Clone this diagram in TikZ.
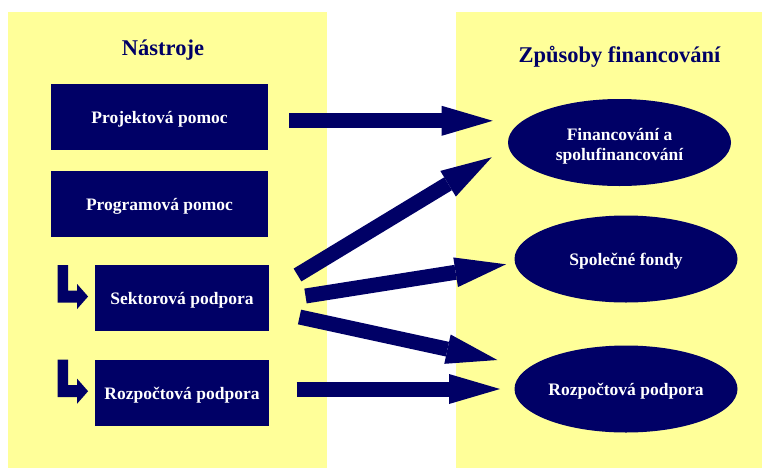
\documentclass[tikz,border=0pt]{standalone}
\usepackage{fontspec}
\setmainfont{Liberation Serif}
\usetikzlibrary{arrows.meta,shapes.geometric,calc}
\definecolor{navy}{RGB}{0,0,102}
\definecolor{paleyellow}{RGB}{255,255,153}
\begin{document}
\begin{tikzpicture}[x=1pt,y=-1pt,
  heading/.style={font=\fontsize{22.5}{27}\selectfont\bfseries, text=navy, anchor=base, inner sep=0pt},
  toolbox/.style={rectangle, fill=navy, text=white, font=\fontsize{17.5}{21}\selectfont\bfseries,
    minimum height=66pt, inner sep=0pt, text height=12.3pt, text depth=0pt},
  fundell/.style={ellipse, fill=navy, text=white, font=\fontsize{17.5}{19.5}\selectfont\bfseries,
    minimum width=223pt, minimum height=87pt, inner sep=0pt, align=center},
  oneline/.style={text height=12.3pt, text depth=0pt},
  blockarrow/.style={draw=navy, line width=15pt, line cap=butt,
    -{Triangle[length=51pt,width=30pt,line width=0pt]}},
  bentarrow/.pic={\fill[navy] (-30.5,-31.5) -- (-20,-31.5) -- (-20,-6) -- (-11,-6) -- (-11,-12.5)
      -- (0,0) -- (-11,12.5) -- (-11,6) -- (-30.5,6) -- cycle;}
]
\useasboundingbox (0,0) rectangle (762,469);

% two background panels
\fill[paleyellow] (8,12) rectangle (327,468);
\fill[paleyellow] (456,12) rectangle (762,468);

% headings
\node[heading] (tools) at (163,55) {Nástroje};
\node[heading] (ways) at (619.5,62) {Způsoby financování};

% instruments
\node[toolbox, minimum width=217pt] (proj) at (159.5,117) {Projektová pomoc};
\node[toolbox, minimum width=217pt] (prog) at (159.5,204) {Programová pomoc};
\node[toolbox, minimum width=174pt] (sekt) at (182,298) {Sektorová podpora};
\node[toolbox, minimum width=174pt] (rozp) at (182,393) {Rozpočtová podpora};

% small bent arrows in front of the sub-instruments
\pic at ($(sekt.west)+(-6.7,-1.5)$) {bentarrow};
\pic at ($(rozp.west)+(-6.7,-1.8)$) {bentarrow};

% financing methods (two-line box: its baseline is the last line)
\node[fundell, text height=35.6pt, text depth=0pt] (fin) at (619.5,142.5) {Financování a\\spolufinancování};
\node[fundell, oneline] (fond) at (626,259) {Společné fondy};
\node[fundell, oneline] (bud) at (626,389) {Rozpočtová podpora};

% arrow end points
\coordinate (a1s) at (289.3,120.8);
\coordinate (a1e) at (492.7,120.8);
\coordinate (a2s) at (297.5,275);
\coordinate (a2e) at (491.7,157.3);
\coordinate (a3s) at (305.5,296);
\coordinate (a3e) at (506,264.3);
\coordinate (a4s) at (299.5,317);
\coordinate (a4e) at (497.3,360);
\coordinate (a5s) at (296.7,389);
\coordinate (a5e) at (500,389);

\draw[blockarrow] (a1s) -- (a1e);
\draw[blockarrow] (a2s) -- (a2e);
\draw[blockarrow] (a3s) -- (a3e);
\draw[blockarrow] (a4s) -- (a4e);
\draw[blockarrow] (a5s) -- (a5e);
\end{tikzpicture}
\end{document}
